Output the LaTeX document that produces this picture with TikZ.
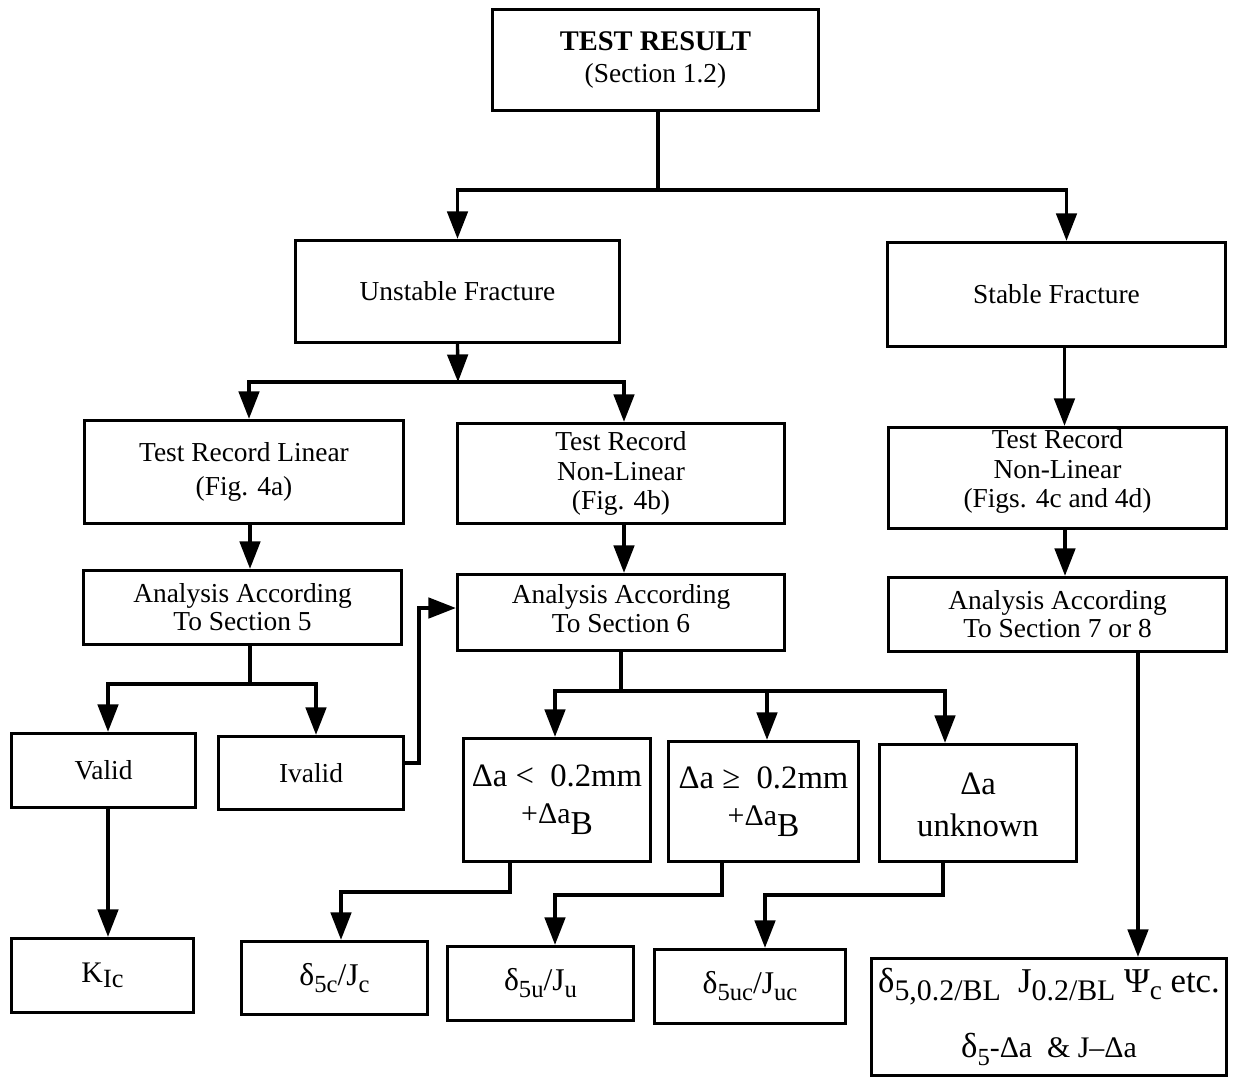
\documentclass[tikz,border=0pt]{standalone}
\usepackage{fontspec}
\setmainfont{Liberation Serif}
\usetikzlibrary{arrows.meta}
\newcommand\sub[3]{\raisebox{#1}{\fontsize{#2}{#2}\selectfont #3}}
\tikzset{
  box/.style={draw, line width=1.9pt, inner sep=0pt, align=center},
  nrm/.style={font=\fontsize{15.6}{17.5}\selectfont},
  conn/.style={line width=1.9pt},
  arr/.style={line width=1.9pt, -{Triangle[length=0.55cm, width=0.41cm]}},
}
\begin{document}
\begin{tikzpicture}[x=0.02cm, y=-0.02cm]
\useasboundingbox (0,0) rectangle (1240,1079);
% boxes
\node[box, minimum width=6.52cm, minimum height=2.02cm, font=\fontsize{15.6}{18}\selectfont] (top) at (655.5,60)
  {{\fontsize{16.2}{18}\selectfont\bfseries TEST RESULT}\\(Section 1.2)};
\node[box, nrm, minimum width=6.48cm, minimum height=2.04cm] (unstable) at (457.5,291.5) {Unstable Fracture};
\node[box, nrm, minimum width=6.76cm, minimum height=2.08cm] (stable) at (1056.5,294.5) {Stable Fracture};
\node[box, minimum width=6.38cm, minimum height=2.06cm, font=\fontsize{15.6}{19}\selectfont] (trl) at (244,472) {Test Record Linear\\(Fig. 4a)};
\node[box, minimum width=6.54cm, minimum height=2.0cm, font=\fontsize{15.6}{17}\selectfont] (trnl1) at (621,473.5) {Test Record\\Non-Linear\\(Fig. 4b)};
\node[box, minimum width=6.76cm, minimum height=2.02cm, font=\fontsize{15.6}{17}\selectfont] (trnl2) at (1057.5,478) {Test Record\\Non-Linear\\(Figs. 4c and 4d)\\[-0.22cm]};
\node[box, minimum width=6.36cm, minimum height=1.48cm, font=\fontsize{15.6}{16}\selectfont] (s5) at (242.5,607.5) {Analysis According\\To Section 5};
\node[box, minimum width=6.54cm, minimum height=1.52cm, font=\fontsize{15.6}{16}\selectfont] (s6) at (621,612.5) {Analysis According\\To Section 6\\[-0.4cm]};
\node[box, minimum width=6.76cm, minimum height=1.48cm, font=\fontsize{15.6}{16}\selectfont] (s78) at (1057.5,614.5) {Analysis According\\To Section 7 or 8};
\node[box, nrm, minimum width=3.68cm, minimum height=1.48cm] (valid) at (103.5,770.5) {Valid};
\node[box, nrm, minimum width=3.7cm, minimum height=1.46cm] (ivalid) at (311,773) {Ivalid};
\node[box, minimum width=3.74cm, minimum height=2.46cm, font=\fontsize{18.6}{21}\selectfont] (dA) at (557,800)
  {Δa <\ \ 0.2mm\\{\fontsize{17}{17}\selectfont +Δa}\sub{-6.5pt}{19}{B}};
\node[box, minimum width=3.8cm, minimum height=2.4cm, font=\fontsize{18.6}{21}\selectfont] (dB) at (763.5,801.5)
  {Δa ≥\ \ 0.2mm\\{\fontsize{17}{17}\selectfont +Δa}\sub{-6.5pt}{19}{B}};
\node[box, minimum width=3.94cm, minimum height=2.34cm, font=\fontsize{18.6}{24}\selectfont] (dC) at (978,803)
  {\\[-0.35cm]Δa\\unknown};
\node[box, minimum width=3.64cm, minimum height=1.48cm] (kic) at (102.5,975.5)
  {{\fontsize{17}{17}\selectfont K}\sub{-3pt}{15}{Ic}};
\node[box, minimum width=3.72cm, minimum height=1.46cm, font=\fontsize{18}{18}\selectfont] (d5c) at (334.5,978)
  {δ\sub{-4pt}{14}{5c}/J\sub{-4pt}{14}{c}};
\node[box, minimum width=3.72cm, minimum height=1.48cm, font=\fontsize{18}{18}\selectfont] (d5u) at (540.5,983.5)
  {δ\sub{-4pt}{14}{5u}/J\sub{-4pt}{14}{u}};
\node[box, minimum width=3.82cm, minimum height=1.48cm, font=\fontsize{18}{18}\selectfont] (d5uc) at (750,986.5)
  {δ\sub{-4pt}{14}{5uc}/J\sub{-4pt}{14}{uc}};
\node[box, minimum width=7.1cm, minimum height=2.34cm, font=\fontsize{19.8}{37}\selectfont] (final) at (1049,1017)
  {δ\sub{-5pt}{17}{5,0.2/BL}\ \ J\sub{-5pt}{17}{0.2/BL} Ψ\sub{-4pt}{15.5}{c} etc.\\
   δ\sub{-5pt}{14}{5}{\fontsize{17}{17}\selectfont -Δa\ \ \& J–Δa}};
% connectors
\coordinate (j1) at (658,190);
\draw[conn] (top.south -| j1) -- (j1);
\draw[arr] (j1) -| (unstable.north);
\draw[arr] (j1) -| ([xshift=0.2cm]stable.north);
\coordinate (j2) at (458,382);
\draw[arr] (unstable.south) -- (j2);
\draw[arr] (j2) -| ([xshift=0.1cm]trl.north);
\draw[arr] (j2) -| ([xshift=0.06cm]trnl1.north);
\draw[arr] ([xshift=0.16cm]stable.south) -- ([xshift=0.16cm]stable.south |- trnl2.north);
\draw[arr] ([xshift=0.12cm]trl.south) -- ([xshift=0.12cm]trl.south |- s5.north);
\draw[arr] ([xshift=0.06cm]trnl1.south) -- ([xshift=0.06cm]trnl1.south |- s6.north);
\draw[arr] ([xshift=0.15cm]trnl2.south) -- ([xshift=0.15cm]trnl2.south |- s78.north);
\coordinate (j3) at (250,684);
\draw[conn] (s5.south -| j3) -- (j3);
\draw[arr] (j3) -| ([xshift=0.09cm]valid.north);
\draw[arr] (j3) -| ([xshift=0.1cm]ivalid.north);
\coordinate (iv) at (419,608);
\draw[arr] ([yshift=0.2cm]ivalid.east) -| (iv) -- (iv -| s6.west);
\coordinate (j4) at (621,691);
\draw[conn] (s6.south) -- (j4);
\draw[arr] (j4) -| ([xshift=-0.04cm]dA.north);
\draw[arr] (j4) -| ([xshift=0.07cm]dB.north);
\draw[arr] (j4) -| ([xshift=-0.66cm]dC.north);
\coordinate (ka) at (341,892);
\coordinate (kb) at (555,895);
\coordinate (kc) at (765,895);
\draw[arr] ([xshift=-0.94cm]dA.south) |- (ka) -- (ka |- d5c.north);
\draw[arr] ([xshift=-0.83cm]dB.south) |- (kb) -- (kb |- d5u.north);
\draw[arr] ([xshift=-0.7cm]dC.south) |- (kc) -- (kc |- d5uc.north);
\draw[arr] ([xshift=0.09cm]valid.south) -- ([xshift=0.09cm]valid.south |- kic.north);
\draw[arr] ([xshift=1.61cm]s78.south) -- ([xshift=1.61cm]s78.south |- final.north);
\end{tikzpicture}
\end{document}
